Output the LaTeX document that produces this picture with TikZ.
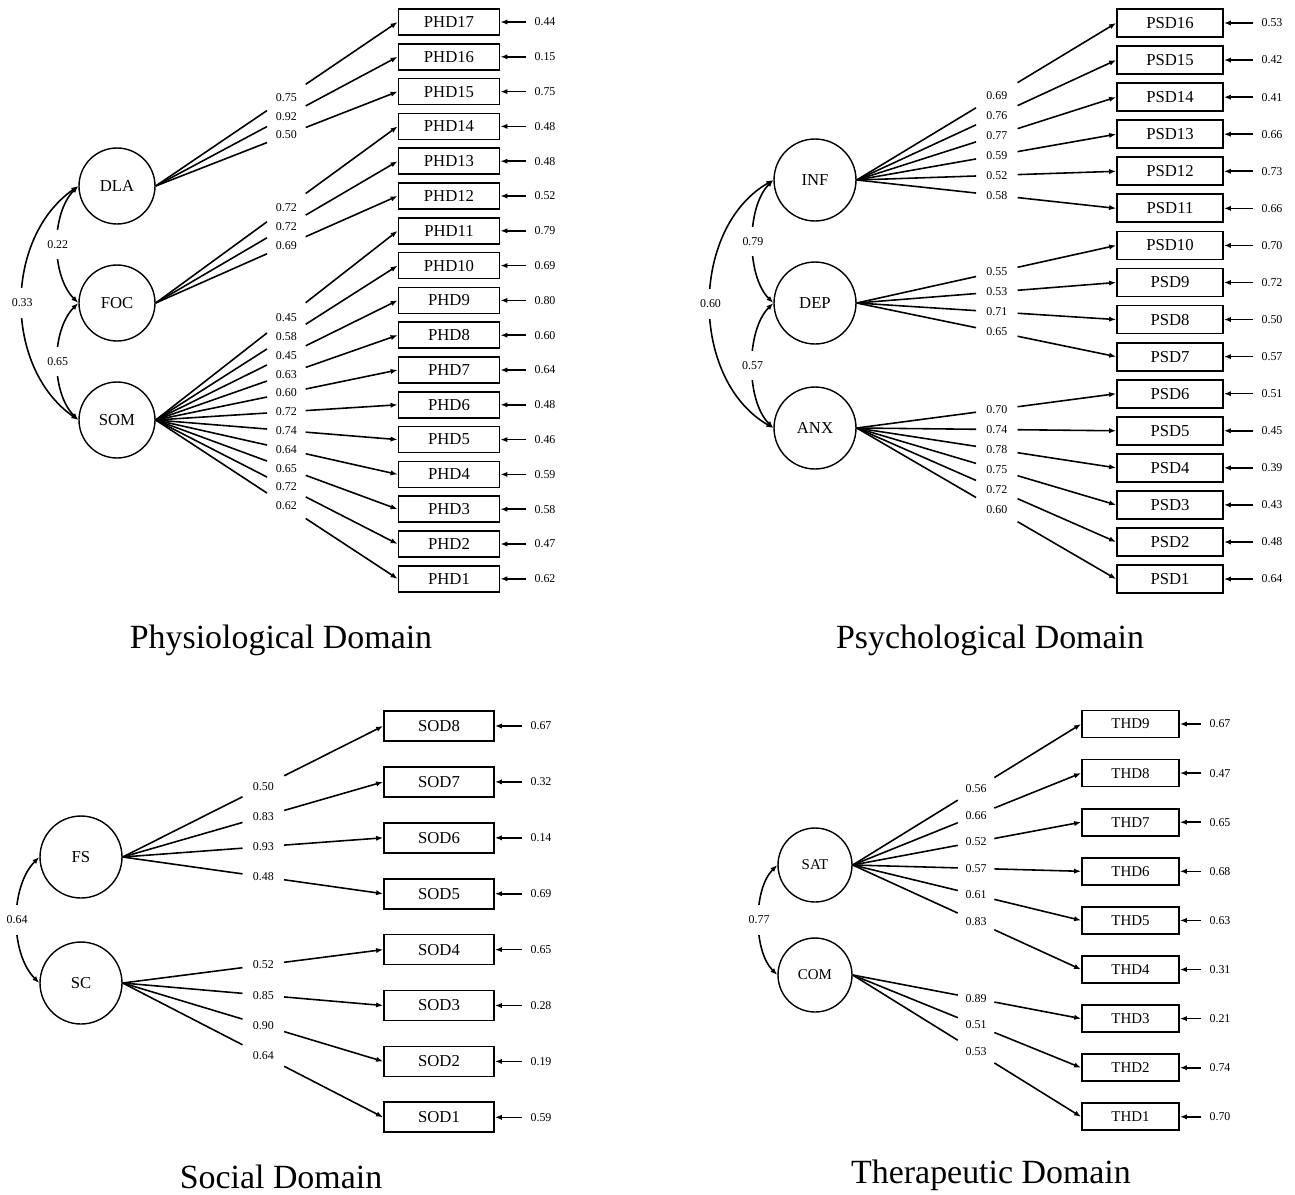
\documentclass[tikz,border=0pt]{standalone}
\usepackage{fontspec}
\setmainfont{Liberation Serif}
\usetikzlibrary{arrows.meta}

\begin{document}
\begin{tikzpicture}
    [
    x                   = 0.02cm,
    y                   = -0.02cm,
    >                   = {Latex[length=4pt, width=3pt]},
    every node/.style   = {font=\fontsize{9.5}{11}\selectfont},
    link/.style         = {line width=0.9pt},
    latent/.style       = {circle, draw, line width=0.8pt, inner sep=0pt, minimum size=#1},
    indicator/.style    = {rectangle, draw, line width=1pt, inner sep=0pt},
    phd/.style          = {indicator, minimum width=2.02cm, minimum height=0.52cm},
    psd/.style          = {indicator, minimum width=2.12cm, minimum height=0.56cm},
    sod/.style          = {indicator, minimum width=2.2cm, minimum height=0.6cm},
    thd/.style          = {indicator, minimum width=1.94cm, minimum height=0.54cm, font=\fontsize{8.5}{10}\selectfont},
    loading/.style      = {pos=0.54, inner sep=0pt, font=\fontsize{6.8}{8}\selectfont},
    resid/.style        = {inner xsep=4.5pt, inner ysep=0pt, font=\fontsize{6.8}{8}\selectfont},
    cov/.style          = {fill=white, inner xsep=1pt, inner ysep=6pt, font=\fontsize{6.8}{8}\selectfont},
    heading/.style      = {font=\fontsize{19.3}{23}\selectfont}
    ]
    \useasboundingbox (0,0) rectangle (1295,1194);

    % Physiological domain
    \node [latent=1.52cm] (DLA) at (117,186) {DLA};
    \node [latent=1.52cm] (FOC) at (117,303) {FOC};
    \node [latent=1.52cm] (SOM) at (117,420) {SOM};
    \foreach \i/\err in {17/0.44, 16/0.15, 15/0.75, 14/0.48, 13/0.48, 12/0.52, 11/0.79, 10/0.69, 9/0.80,
                         8/0.60, 7/0.64, 6/0.48, 5/0.46, 4/0.59, 3/0.58, 2/0.47, 1/0.62} {
        \node [phd] (PHD\i) at (449, {22+(17-\i)*34.8}) {PHD\i};
        \node [resid] (ePHD\i) at (545, {22+(17-\i)*34.8}) {\err};
        \draw [link, ->] (ePHD\i) -- (PHD\i);
    }
    \foreach \f/\i/\ld in {DLA/17/0.75, DLA/16/0.92, DLA/15/0.50, FOC/14/0.72, FOC/13/0.72, FOC/12/0.69,
                           SOM/11/0.45, SOM/10/0.58, SOM/9/0.45, SOM/8/0.63, SOM/7/0.60, SOM/6/0.72,
                           SOM/5/0.74, SOM/4/0.64, SOM/3/0.65, SOM/2/0.72, SOM/1/0.62} {
        \path (\f.east) -- coordinate [pos=0.46] (a) node [loading] {\ld} coordinate [pos=0.62] (b) (PHD\i.west);
        \draw [link] (\f.east) -- (a);
        \draw [link, ->] (b) -- (PHD\i.west);
    }
    \draw [link, <->] (DLA.west) to [bend right=45, looseness=0.85] node [cov] {0.22} (FOC.west);
    \draw [link, <->] (FOC.west) to [bend right=45, looseness=0.85] node [cov] {0.65} (SOM.west);
    \draw [link, <->] (DLA.west) to [bend right=55] node [cov] {0.33} (SOM.west);
    \node [heading] (physio) at (281,640) {Physiological Domain};

    % Psychological domain
    \node [latent=1.64cm] (INF) at (815,180) {INF};
    \node [latent=1.64cm] (DEP) at (815,303) {DEP};
    \node [latent=1.64cm] (ANX) at (815,428) {ANX};
    \foreach \i/\err in {16/0.53, 15/0.42, 14/0.41, 13/0.66, 12/0.73, 11/0.66, 10/0.70, 9/0.72,
                         8/0.50, 7/0.57, 6/0.51, 5/0.45, 4/0.39, 3/0.43, 2/0.48, 1/0.64} {
        \node [psd] (PSD\i) at (1170, {23+(16-\i)*37.07}) {PSD\i};
        \node [resid] (ePSD\i) at (1272, {23+(16-\i)*37.07}) {\err};
        \draw [link, ->] (ePSD\i) -- (PSD\i);
    }
    \foreach \f/\i/\ld in {INF/16/0.69, INF/15/0.76, INF/14/0.77, INF/13/0.59, INF/12/0.52, INF/11/0.58,
                           DEP/10/0.55, DEP/9/0.53, DEP/8/0.71, DEP/7/0.65,
                           ANX/6/0.70, ANX/5/0.74, ANX/4/0.78, ANX/3/0.75, ANX/2/0.72, ANX/1/0.60} {
        \path (\f.east) -- coordinate [pos=0.46] (a) node [loading] {\ld} coordinate [pos=0.62] (b) (PSD\i.west);
        \draw [link] (\f.east) -- (a);
        \draw [link, ->] (b) -- (PSD\i.west);
    }
    \draw [link, <->] (INF.west) to [bend right=45, looseness=0.8] node [cov] {0.79} (DEP.west);
    \draw [link, <->] (DEP.west) to [bend right=45, looseness=0.8] node [cov] {0.57} (ANX.west);
    \draw [link, <->] (INF.west) to [bend right=60] node [cov] {0.60} (ANX.west);
    \node [heading] (psycho) at (990,640) {Psychological Domain};

    % Social domain
    \node [latent=1.64cm] (FS) at (81,857) {FS};
    \node [latent=1.64cm] (SC) at (81,983) {SC};
    \foreach \i/\err in {8/0.67, 7/0.32, 6/0.14, 5/0.69, 4/0.65, 3/0.28, 2/0.19, 1/0.59} {
        \node [sod] (SOD\i) at (439, {726+(8-\i)*55.9}) {SOD\i};
        \node [resid] (eSOD\i) at (541, {726+(8-\i)*55.9}) {\err};
        \draw [link, ->] (eSOD\i) -- (SOD\i);
    }
    \foreach \f/\i/\ld in {FS/8/0.50, FS/7/0.83, FS/6/0.93, FS/5/0.48, SC/4/0.52, SC/3/0.85, SC/2/0.90, SC/1/0.64} {
        \path (\f.east) -- coordinate [pos=0.46] (a) node [loading] {\ld} coordinate [pos=0.62] (b) (SOD\i.west);
        \draw [link] (\f.east) -- (a);
        \draw [link, ->] (b) -- (SOD\i.west);
    }
    \draw [link, <->] (FS.west) to [bend right=45, looseness=0.85] node [cov] {0.64} (SC.west);
    \node [heading] (social) at (281,1177) {Social Domain};

    % Therapeutic domain
    \node [latent=1.48cm, font=\fontsize{8.5}{10}\selectfont] (SAT) at (815,865) {SAT};
    \node [latent=1.48cm, font=\fontsize{8.5}{10}\selectfont] (COM) at (815,975) {COM};
    \foreach \i/\err in {9/0.67, 8/0.47, 7/0.65, 6/0.68, 5/0.63, 4/0.31, 3/0.21, 2/0.74, 1/0.70} {
        \node [thd] (THD\i) at (1130.5, {724+(9-\i)*49.1}) {THD\i};
        \node [resid] (eTHD\i) at (1220, {724+(9-\i)*49.1}) {\err};
        \draw [link, ->] (eTHD\i) -- (THD\i);
    }
    \foreach \f/\i/\ld in {SAT/9/0.56, SAT/8/0.66, SAT/7/0.52, SAT/6/0.57, SAT/5/0.61, SAT/4/0.83,
                           COM/3/0.89, COM/2/0.51, COM/1/0.53} {
        \path (\f.east) -- coordinate [pos=0.46] (a) node [loading] {\ld} coordinate [pos=0.62] (b) (THD\i.west);
        \draw [link] (\f.east) -- (a);
        \draw [link, ->] (b) -- (THD\i.west);
    }
    \draw [link, <->] (SAT.west) to [bend right=45, looseness=0.8] node [cov] {0.77} (COM.west);
    \node [heading] (therap) at (991,1175) {Therapeutic Domain};
\end{tikzpicture}
\end{document}
